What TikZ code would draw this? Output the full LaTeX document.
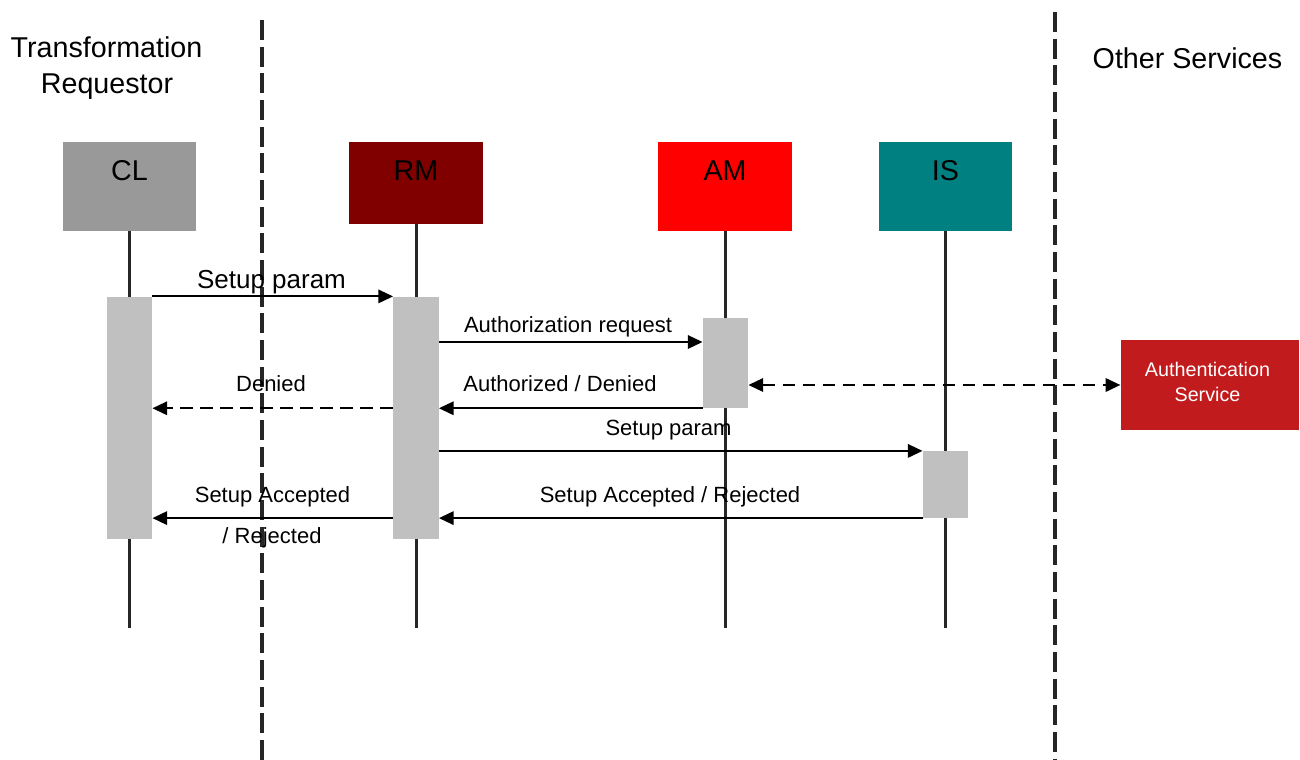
\documentclass[tikz,border=0pt]{standalone}
\usepackage{fontspec}
\setmainfont{Liberation Sans}
\usetikzlibrary{arrows.meta}
\definecolor{clgray}{HTML}{999999}
\definecolor{rmred}{HTML}{800000}
\definecolor{amred}{HTML}{FF0000}
\definecolor{isteal}{HTML}{008080}
\definecolor{bargray}{HTML}{C0C0C0}
\definecolor{authred}{HTML}{C21B1D}
\begin{document}
\begin{tikzpicture}[x=0.75pt,y=-0.75pt,
  txt/.style={anchor=base,inner sep=0pt,text=black},
  headtxt/.style={txt,font=\fontsize{21.5}{26}\selectfont},
  msgtxt/.style={txt,font=\fontsize{16.5}{20}\selectfont},
  actor/.style={rectangle,inner sep=0pt,minimum width=100pt,draw=none},
  bar/.style={rectangle,inner sep=0pt,fill=bargray,draw=none,minimum width=34pt},
  lifeline/.style={line width=1.6pt,black!85},
  separator/.style={line width=2.4pt,black!85,dash pattern=on 15pt off 5pt},
  msg/.style={line width=1.6pt,-{Triangle[length=11pt,width=10pt]}},
  reply/.style={msg,dash pattern=on 9.5pt off 5.5pt},
]
\useasboundingbox (0,0) rectangle (1300,760);

% swim-lane separators
\coordinate (sepLtop) at (262,20);
\coordinate (sepLbot) at (262,760);
\coordinate (sepRtop) at (1055,12);
\coordinate (sepRbot) at (1055,760);
\draw[separator] (sepLtop) -- (sepLbot);
\draw[separator] (sepRtop) -- (sepRbot);

% lane headings
\node[headtxt] (tr1) at (106.5,57) {Transformation};
\node[headtxt] (tr2) at (107,93) {Requestor};
\node[headtxt] (oth) at (1187.5,68) {Other Services};

% participants
\node[actor,fill=clgray,minimum height=67pt] (cl) at (129.5,186.5) {};
\node[actor,fill=rmred,minimum height=61.5pt] (rm) at (416,183) {};
\node[actor,fill=amred,minimum height=67pt] (am) at (725,186.5) {};
\node[actor,fill=isteal,minimum height=67pt] (is) at (945.5,186.5) {};
\node[headtxt] (cllab) at (129.5,180) {CL};
\node[headtxt] (rmlab) at (416,180) {RM};
\node[headtxt] (amlab) at (725,180) {AM};
\node[headtxt] (islab) at (945.5,180) {IS};

% lifeline ends
\coordinate (clend) at (129.5,628);
\coordinate (rmend) at (416.5,628);
\coordinate (amend) at (725.5,628);
\coordinate (isend) at (945.5,628);
\draw[lifeline] (cl.south -| clend) -- (clend);
\draw[lifeline] (rm.south -| rmend) -- (rmend);
\draw[lifeline] (am.south -| amend) -- (amend);
\draw[lifeline] (is.south -| isend) -- (isend);

% activation bars
\node[bar,minimum height=182pt] (clbar) at (129.5,418) {};
\node[bar,minimum height=182pt] (rmbar) at (416,418) {};
\node[bar,minimum height=67.5pt] (ambar) at (725.5,363) {};
\node[bar,minimum height=50pt] (isbar) at (945.5,484.5) {};

% external service
\node[rectangle,inner sep=0pt,fill=authred,minimum width=134pt,minimum height=67.5pt] (auth) at (1210,385) {};
\node[txt,text=white,font=\fontsize{14.8}{18}\selectfont] (authl1) at (1207.5,376) {Authentication};
\node[txt,text=white,font=\fontsize{14.8}{18}\selectfont] (authl2) at (1207.5,401) {Service};

% messages
\coordinate (areq) at (0,342);
\draw[msg] (clbar.north east) -- (rmbar.north west);
\node[txt,font=\fontsize{19.5}{24}\selectfont] (m1) at (271.5,288) {Setup param};

\draw[msg] (rmbar.east |- areq) -- (ambar.west |- areq);
\node[msgtxt] (m2) at (568,332) {Authorization request};

\draw[msg] (ambar.south west) -- (rmbar.east |- ambar.south);
\node[msgtxt] (m3) at (560,391) {Authorized / Denied};

\draw[reply] (rmbar.west |- ambar.south) -- (clbar.east |- ambar.south);
\node[msgtxt] (m4) at (271,391) {Denied};

\draw[reply,{Triangle[length=11pt,width=10pt]}-{Triangle[length=11pt,width=10pt]}] (ambar.east |- auth.west) -- (auth.west);

\draw[msg] (rmbar.east |- isbar.north) -- (isbar.north west);
\node[msgtxt] (m5) at (668.5,435) {Setup param};

\draw[msg] (isbar.south west) -- (rmbar.east |- isbar.south);
\node[msgtxt] (m6) at (670,502) {Setup Accepted / Rejected};

\draw[msg] (rmbar.west |- isbar.south) -- (clbar.east |- isbar.south);
\node[msgtxt] (m7a) at (272.5,502) {Setup Accepted};
\node[msgtxt] (m7b) at (272,543) {/ Rejected};
\end{tikzpicture}
\end{document}
